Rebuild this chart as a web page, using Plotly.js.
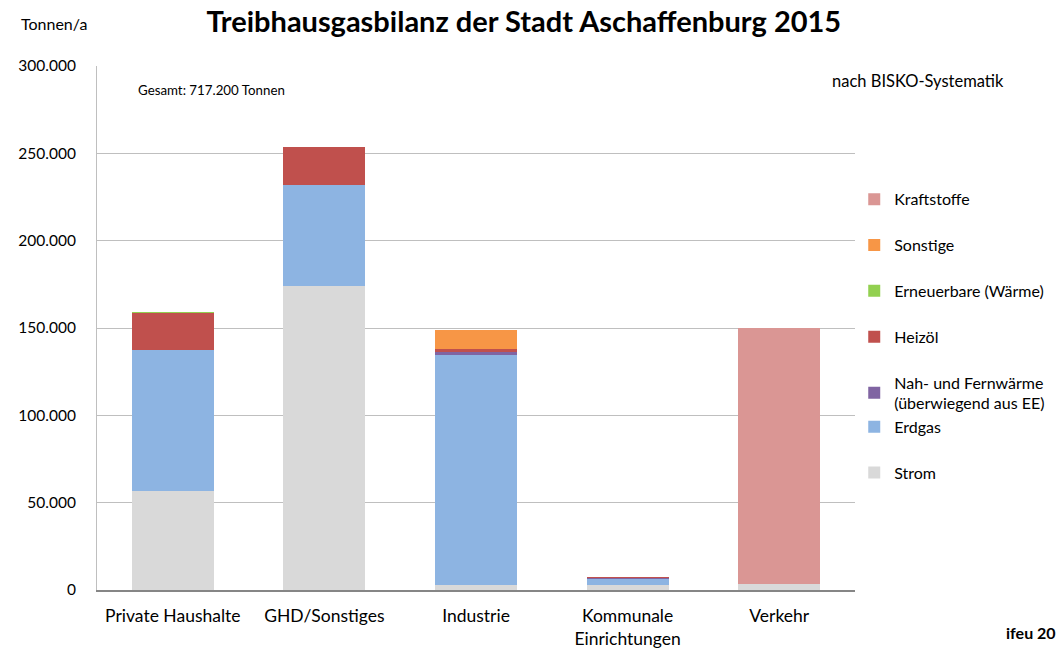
<!DOCTYPE html>
<html><head><meta charset="utf-8">
<script src="https://cdn.plot.ly/plotly-3.0.1.min.js"></script>
<style>body{margin:0;background:#fff}#chart{width:1056px;height:650px}</style>
</head><body><div id="chart"></div>
<script>
const categories = ["Private Haushalte", "GHD/Sonstiges", "Industrie", "Kommunale<br>Einrichtungen", "Verkehr"];
const strom        = [56700, 174000, 2900, 2900, 3400];
const erdgas       = [80700, 57900, 131600, 3500, 0];
const nahFernwaerme= [0, 0, 1500, 300, 0];
const heizoel      = [21200, 21700, 1900, 900, 0];
const erneuerbare  = [700, 0, 0, 0, 0];
const sonstige     = [0, 0, 10900, 0, 0];
const kraftstoffe  = [0, 0, 0, 0, 146400];
const yTicks = [0, 50000, 100000, 150000, 200000, 250000, 300000];

const FONT = "Lato, 'Open Sans', sans-serif";
const series = [
  {name: "Strom", y: strom, color: "#d9d9d9", lg: "legend2"},
  {name: "Erdgas", y: erdgas, color: "#8db4e2", lg: "legend2"},
  {name: "Nah- und Fernwärme<br>(überwiegend aus EE)", y: nahFernwaerme, color: "#8064a2", lg: "legend"},
  {name: "Heizöl", y: heizoel, color: "#c0504d", lg: "legend"},
  {name: "Erneuerbare (Wärme)", y: erneuerbare, color: "#92d050", lg: "legend"},
  {name: "Sonstige", y: sonstige, color: "#f79646", lg: "legend"},
  {name: "Kraftstoffe", y: kraftstoffe, color: "#da9694", lg: "legend"}
];
const data = series.map((s, i) => ({
  type: "bar", x: categories, y: s.y, name: s.name, legendgroup: "g" + i, legendrank: 100 - i, legend: s.lg,
  marker: {color: s.color, line: {width: 0}}, hoverinfo: "name+y"
}));

const legendStyle = {xanchor: "left", yanchor: "top", traceorder: "grouped", tracegroupgap: 22,
                     font: {family: FONT, size: 16}, itemwidth: 30, bgcolor: "rgba(0,0,0,0)"};

const layout = {
  width: 1056, height: 650,
  margin: {l: 97, r: 201, t: 66, b: 60, autoexpand: false},
  paper_bgcolor: "#fff", plot_bgcolor: "#fff",
  separators: ",.",
  barmode: "stack", bargap: 0.46,
  font: {family: FONT, size: 16, color: "#000"},
  title: {text: "<b>Treibhausgasbilanz der Stadt Aschaffenburg 2015</b>", font: {family: FONT, size: 29, color: "#000"},
          x: 0.496, xanchor: "center", y: 0.966, yanchor: "middle"},
  xaxis: {showgrid: false, showline: true, linecolor: "#868686", linewidth: 2, ticks: "",
          tickfont: {family: FONT, size: 17.5}, ticklabelstandoff: 9, fixedrange: true},
  yaxis: {range: [0, 300000], tickvals: yTicks, tickformat: ",d", showgrid: true, gridcolor: "#bfbfbf", gridwidth: 1,
          showline: true, linecolor: "#bfbfbf", linewidth: 1, ticks: "", zeroline: false,
          tickfont: {family: FONT, size: 15.5}, ticklabelstandoff: 17, fixedrange: true},
  legend: Object.assign({x: 0.999, y: 0.778}, legendStyle),
  legend2: Object.assign({x: 0.999, y: 0.344}, legendStyle),
  annotations: [
    {text: "Tonnen/a", xref: "paper", yref: "paper", x: -0.103, xanchor: "left", y: 1.082, yanchor: "middle", showarrow: false, font: {family: FONT, size: 16}},
    {text: "Gesamt: 717.200 Tonnen", xref: "paper", yref: "paper", x: 0.051, xanchor: "left", y: 0.955, yanchor: "middle", showarrow: false, font: {family: FONT, size: 13.3}},
    {text: "nach BISKO-Systematik", xref: "paper", yref: "paper", x: 0.967, xanchor: "left", y: 0.972, yanchor: "middle", showarrow: false, font: {family: FONT, size: 16.5}},
    {text: "<b>ifeu 20</b>", xref: "paper", yref: "paper", x: 1.196, xanchor: "left", y: -0.082, yanchor: "middle", showarrow: false, font: {family: FONT, size: 16}}
  ]
};
Plotly.newPlot("chart", data, layout, {displayModeBar: false, staticPlot: true});
</script></body></html>
